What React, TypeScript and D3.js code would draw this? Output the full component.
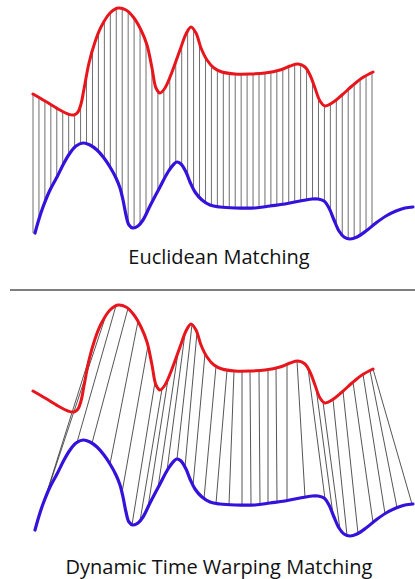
import React, { useEffect, useRef } from "react";
import * as d3 from "d3";

const W = 415;
const H = 579;

// Red (query) series: time positions and amplitudes (top panel units)
const redT = [33, 45, 58, 68, 74, 78, 81, 84, 89, 95, 101, 110, 118, 126, 134, 141, 147, 152, 156, 160, 165, 172, 180, 186, 191, 196, 201, 207, 214, 222, 235, 250, 265, 280, 290, 298, 305, 310, 315, 320, 325, 332, 342, 352, 362, 373];
const redV = [94, 101, 109, 114, 115, 112, 104, 89, 63, 42, 27, 13, 8, 10, 18, 30, 45, 68, 88, 93, 88, 72, 50, 34, 27, 33, 48, 60, 68, 72, 74, 74, 73, 70, 66, 64, 67, 75, 88, 101, 106, 103, 95, 86, 78, 72];

// Blue (reference) series
const blueT = [35, 39, 43, 50, 57, 64, 70, 76, 83, 90, 97, 104, 110, 116, 120, 123, 126, 129, 133, 138, 143, 150, 160, 168, 174, 177, 181, 186, 190, 195, 202, 210, 220, 235, 255, 270, 285, 300, 312, 318, 324, 329, 334, 339, 344, 350, 357, 366, 376, 386, 396, 405, 413];
const blueV = [233, 219, 207, 190, 177, 163, 153, 146, 143, 145, 150, 158, 167, 178, 188, 200, 215, 225, 228, 226, 220, 206, 187, 172, 164, 162, 164, 172, 182, 192, 200, 205, 207, 208, 208, 206, 204, 201, 199, 199, 201, 208, 220, 231, 237, 239, 237, 231, 223, 216, 211, 208, 207];

// Euclidean matching: evenly spaced sample indices
const euclidCount = 58;
const euclidSpan = [33, 372];

// DTW warping path: matched time positions (red -> blue)
const dtwRedT = [97, 106, 116, 128, 138, 148, 155, 162, 168, 178, 185, 192, 197, 205, 216, 227, 234, 242, 250, 259, 268, 276, 287, 297, 308, 316, 323, 333, 343, 353, 363, 370, 373];
const dtwBlueT = [35, 37, 77, 92, 110, 122, 132, 140, 148, 158, 167, 177, 185, 193, 204, 216, 229, 242, 251, 260, 268, 277, 287, 305, 325, 333, 340, 347, 358, 373, 385, 397, 412];

const labels = ["Euclidean Matching", "Dynamic Time Warping Matching"];

const PANEL_OFFSETS = [0, 297];
const LABEL_BASELINES = [264, 574];
const DIVIDER_Y = 290;

function sampler(node: SVGPathElement) {
  const len = node.getTotalLength();
  const pts: [number, number][] = [];
  for (let s = 0; s <= len; s += 0.4) {
    const p = node.getPointAtLength(s);
    pts.push([p.x, p.y]);
  }
  const p = node.getPointAtLength(len);
  pts.push([p.x, p.y]);
  pts.sort((a, b) => a[0] - b[0]);
  const bis = d3.bisector((d: [number, number]) => d[0]).left;
  return (x: number) => {
    let i = bis(pts, x);
    if (i <= 0) return pts[0][1];
    if (i >= pts.length) return pts[pts.length - 1][1];
    const a = pts[i - 1], b = pts[i];
    const t = b[0] === a[0] ? 0 : (x - a[0]) / (b[0] - a[0]);
    return a[1] + t * (b[1] - a[1]);
  };
}

export default function App() {
  const ref = useRef<SVGSVGElement>(null);

  useEffect(() => {
    const svg = d3.select(ref.current!);
    svg.selectAll("*").remove();

    const x = d3.scaleLinear().domain([0, W]).range([0, W]);
    const idx = d3.scaleLinear().domain([0, euclidCount - 1]).range(euclidSpan);

    PANEL_OFFSETS.forEach((off, p) => {
      const y = d3.scaleLinear().domain([0, 300]).range([off, off + 300]);
      const line = d3
        .line<[number, number]>()
        .x((d) => x(d[0]))
        .y((d) => y(d[1]))
        .curve(d3.curveCatmullRom.alpha(0.5));

      const g = svg.append("g");
      const linesG = g.append("g");
      const curvesG = g.append("g");

      const redPts = redT.map((t, i) => [t, redV[i]] as [number, number]);
      const bluePts = blueT.map((t, i) => [t, blueV[i]] as [number, number]);

      const redPath = curvesG
        .append("path")
        .attr("d", line(redPts))
        .attr("fill", "none")
        .attr("stroke", "#e8161c")
        .attr("stroke-width", 3)
        .attr("stroke-linecap", "round");
      const bluePath = curvesG
        .append("path")
        .attr("d", line(bluePts))
        .attr("fill", "none")
        .attr("stroke", "#3512dc")
        .attr("stroke-width", 3.2)
        .attr("stroke-linecap", "round");

      const redY = sampler(redPath.node() as SVGPathElement);
      const blueY = sampler(bluePath.node() as SVGPathElement);

      if (p === 0) {
        const xs = d3.range(euclidCount).map((i) => idx(i));
        linesG
          .selectAll("line")
          .data(xs)
          .join("line")
          .attr("x1", (d) => x(d))
          .attr("x2", (d) => x(d))
          .attr("y1", (d) => redY(x(d)))
          .attr("y2", (d) => blueY(x(d)))
          .attr("stroke", "#6f6f6f")
          .attr("stroke-width", 1);
      } else {
        const pairs = dtwRedT.map((r, i) => [r, dtwBlueT[i]]);
        linesG
          .selectAll("line")
          .data(pairs)
          .join("line")
          .attr("x1", (d) => x(d[0]))
          .attr("y1", (d) => redY(x(d[0])))
          .attr("x2", (d) => x(d[1]))
          .attr("y2", (d) => blueY(x(d[1])))
          .attr("stroke", "#2a2a2a")
          .attr("stroke-width", 0.8);
      }

      g.append("text")
        .attr("x", 219)
        .attr("y", LABEL_BASELINES[p])
        .attr("text-anchor", "middle")
        .attr("font-family", "'Open Sans', sans-serif")
        .attr("font-size", 20)
        .attr("fill", "#111")
        .text(labels[p]);
    });

    svg
      .append("line")
      .attr("x1", 10)
      .attr("x2", W)
      .attr("y1", DIVIDER_Y)
      .attr("y2", DIVIDER_Y)
      .attr("stroke", "#555")
      .attr("stroke-width", 1.3);
  }, []);

  return (
    <svg
      ref={ref}
      width={W}
      height={H}
      style={{ position: "absolute", left: 0, top: 0, display: "block", background: "#fff" }}
    />
  );
}
